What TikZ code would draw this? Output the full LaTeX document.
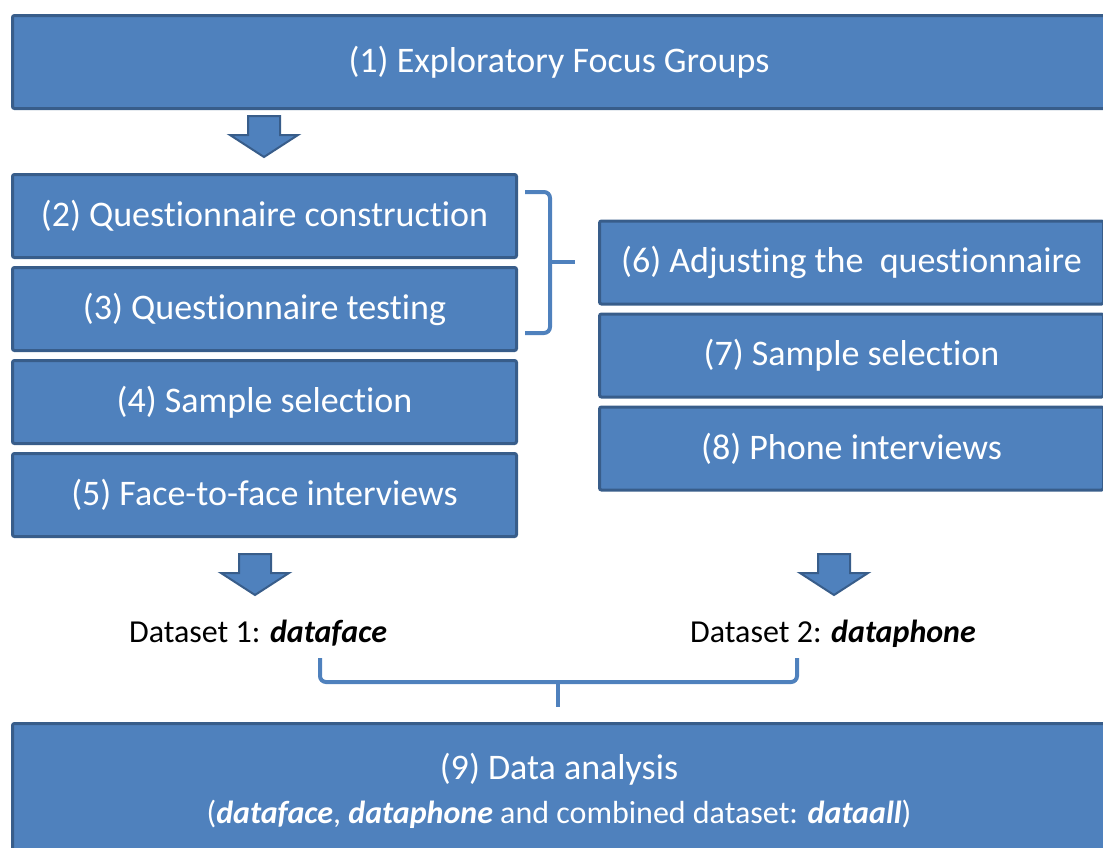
\documentclass[tikz,border=0pt]{standalone}
\usepackage{fontspec}
\setmainfont{Carlito}[RawFeature={-liga}]
\usepackage{xcolor}
\usepackage{tikz}
\usetikzlibrary{positioning}
\definecolor{boxfill}{HTML}{4F81BD}
\definecolor{boxline}{HTML}{385D8A}

\begin{document}
\begin{tikzpicture}[x=0.5pt, y=-0.5pt,
  box/.style={draw=boxline, fill=boxfill, line width=1.5pt, rounded corners=1pt, text=white, align=center,
    font=\fontsize{18}{21}\selectfont, minimum width=252pt, minimum height=41.5pt, inner sep=0pt},
  wide/.style={box, minimum width=546.5pt},
  dset/.style={font=\fontsize{16}{19}\selectfont, text=black, inner sep=0pt},
  blockarr/.style={draw=boxline, fill=boxfill, line width=1pt, line join=miter},
  brace/.style={draw=boxfill, line width=2pt, rounded corners=3pt}]
\clip (0,0) rectangle (1103,847);
\node[wide, minimum height=46.5pt] (explore) at (559,62) {(1) Exploratory Focus Groups};
\node[box] (construct) at (264.5,216) {(2) Questionnaire construction};
\node[box, below=3.5pt of construct] (testing) {(3) Questionnaire testing};
\node[box, below=3.5pt of testing] (sample1) {(4) Sample selection};
\node[box, below=3.5pt of sample1] (face) {(5) Face-to-face interviews};
\node[box] (adjust) at (851.5,262.5) {(6) Adjusting the\ \ questionnaire};
\node[box, below=3.5pt of adjust] (sample2) {(7) Sample selection};
\node[box, below=3.5pt of sample2] (phone) {(8) Phone interviews};
\node[dset] (dface) at (258,633) {Dataset 1: \textbf{\textit{dataface}}};
\node[dset] (dphone) at (833,634) {Dataset 2: \textbf{\textit{dataphone}}};
\node[wide, minimum height=67.5pt] (analysis) at (559,791) {(9) Data analysis\\[1pt]
  {\fontsize{16}{19}\selectfont(\textbf{\textit{dataface}}, \textbf{\textit{dataphone}} and combined dataset: \textbf{\textit{dataall}})}};
\foreach \cx/\ty in {264/116, 255/554, 834/554}
  \draw[blockarr] (\cx-16,\ty) -- ++(32,0) -- ++(0,19) -- ++(18,0) -- ++(-34,22) -- ++(-34,-22) -- ++(18,0) -- cycle;
\coordinate (bracetip) at (575,262);
\coordinate (mergetip) at (558,707);
\draw[brace] (525,192) -- (550,192) -- (550,333) -- (525,333);
\draw[brace, rounded corners=0pt] (550,262) -- (bracetip);
\draw[brace] (320,658) -- (320,682) -- (797,682) -- (797,658);
\draw[brace, rounded corners=0pt] (558,682) -- (mergetip);
\end{tikzpicture}
\end{document}
